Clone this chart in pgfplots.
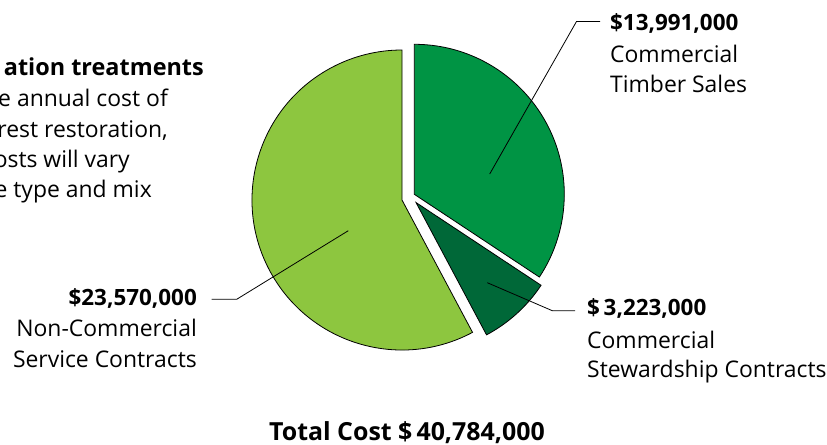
\documentclass[border=0pt]{standalone}
\usepackage{fontspec}
\setmainfont{Open Sans}
\usepackage{pgfplots}
\usepackage{pgfplotstable}
\pgfplotsset{compat=1.18}

\definecolor{lightgreen}{RGB}{141,198,63}
\definecolor{midgreen}{RGB}{0,148,68}
\definecolor{darkgreen}{RGB}{0,104,56}

% values in thousands of dollars; cx/cy = slice centre (picture units)
\pgfplotstableread{
label          value  cx     cy
Timber         13991  414.3  250.7
Stewardship     3223  416.0  242.5
NonCommercial  23570  402.0  245.0
}\piedata

\newcommand\numfont{\fontsize{22.5}{30}\selectfont\bfseries}
\newcommand\txtfont{\fontsize{23}{30}\selectfont}

\begin{document}
\begin{tikzpicture}
\clip (0,0) rectangle (827bp,445bp);

\pgfplotstablegetelem{0}{value}\of\piedata \let\vA\pgfplotsretval
\pgfplotstablegetelem{1}{value}\of\piedata \let\vB\pgfplotsretval
\pgfplotstablegetelem{2}{value}\of\piedata \let\vC\pgfplotsretval
\pgfplotstablegetelem{0}{cx}\of\piedata \let\xA\pgfplotsretval
\pgfplotstablegetelem{0}{cy}\of\piedata \let\yA\pgfplotsretval
\pgfplotstablegetelem{1}{cx}\of\piedata \let\xB\pgfplotsretval
\pgfplotstablegetelem{1}{cy}\of\piedata \let\yB\pgfplotsretval
\pgfplotstablegetelem{2}{cx}\of\piedata \let\xC\pgfplotsretval
\pgfplotstablegetelem{2}{cy}\of\piedata \let\yC\pgfplotsretval
\edef\aA{\fpeval{round(90-360*\vA/(\vA+\vB+\vC),3)}}
\edef\aB{\fpeval{round(\aA-360*\vB/(\vA+\vB+\vC),3)}}

\begin{axis}[
  x=1bp, y=1bp,
  xmin=0, xmax=827, ymin=0, ymax=445,
  hide axis, clip=false,
]
  \filldraw[fill=lightgreen, draw=black, line width=0.8bp]
    (axis cs:\xC,\yC) -- ++(\aB:150bp)
    arc[start angle=\aB, end angle=-270, radius=150bp] -- cycle;
  \filldraw[fill=midgreen, draw=black, line width=0.8bp]
    (axis cs:\xA,\yA) -- ++(90:150bp)
    arc[start angle=90, end angle=\aA, radius=150bp] -- cycle;
  \filldraw[fill=darkgreen, draw=black, line width=0.8bp]
    (axis cs:\xB,\yB) -- ++(\aA:150bp)
    arc[start angle=\aA, end angle=\aB, radius=150bp] -- cycle;

  % leader lines
  \draw[black, line width=0.8bp] (axis cs:489.7,271) -- (axis cs:576.5,423.5) -- (axis cs:600,423.5);
  \draw[black, line width=0.8bp] (axis cs:487.3,162.3) -- (axis cs:552.3,134.3) -- (axis cs:575,134.3);
  \draw[black, line width=0.8bp] (axis cs:348.3,214.3) -- (axis cs:236.7,145.7) -- (axis cs:211.7,145.7);

  % labels
  \node[anchor=base west, inner sep=0pt, font=\numfont] at (axis cs:610,414) {\$13,991,000};
  \node[anchor=base west, inner sep=0pt, font=\txtfont] at (axis cs:610,383) {Commercial};
  \node[anchor=base west, inner sep=0pt, font=\txtfont] at (axis cs:610,353) {Timber Sales};

  \node[anchor=base west, inner sep=0pt, font=\numfont] at (axis cs:587,130) {\$\,3,223,000};
  \node[anchor=base west, inner sep=0pt, font=\txtfont] at (axis cs:587,97) {Commercial};
  \node[anchor=base west, inner sep=0pt, font=\txtfont] at (axis cs:587,68) {Stewardship Contracts};

  \node[anchor=base east, inner sep=0pt, font=\numfont] at (axis cs:197,140) {\$23,570,000};
  \node[anchor=base east, inner sep=0pt, font=\txtfont] at (axis cs:197,109) {Non-Commercial};
  \node[anchor=base east, inner sep=0pt, font=\txtfont] at (axis cs:197,78) {Service Contracts};

  \node[anchor=base, inner sep=0pt, font={\fontsize{25}{30}\selectfont\bfseries}] at (axis cs:407,5) {Total Cost \$\,40,784,000};

  % cut-off intro text at the left edge
  \node[anchor=base east, inner sep=0pt, font={\fontsize{23.5}{30}\selectfont\bfseries}] at (axis cs:204,370) {ation treatments};
  \node[anchor=base east, inner sep=0pt, font=\txtfont] at (axis cs:168,339) {e annual cost of};
  \node[anchor=base east, inner sep=0pt, font=\txtfont] at (axis cs:168,308) {rest restoration,};
  \node[anchor=base east, inner sep=0pt, font=\txtfont] at (axis cs:130,278) {osts will vary};
  \node[anchor=base east, inner sep=0pt, font=\txtfont] at (axis cs:152,248) {e type and mix};
\end{axis}
\end{tikzpicture}
\end{document}
